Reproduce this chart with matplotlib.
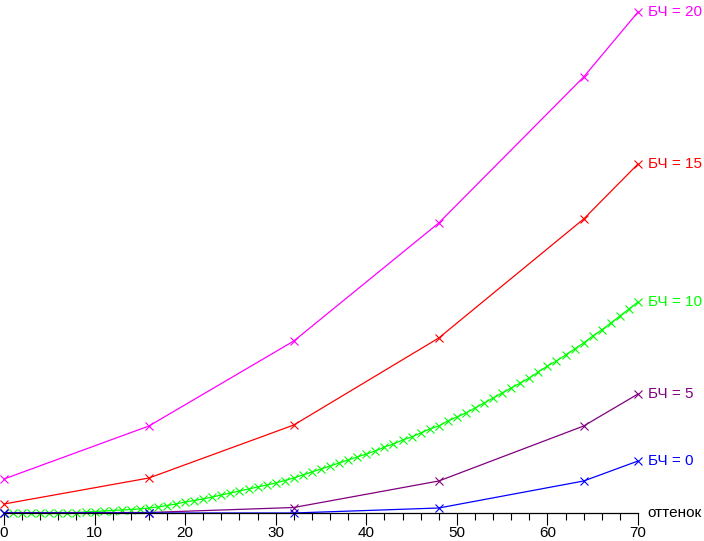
import matplotlib
matplotlib.use("Agg")
import matplotlib.pyplot as plt
from matplotlib.ticker import MultipleLocator

plt.rcParams['font.family'] = ['Liberation Sans', 'DejaVu Sans']

# оттенок (hue) values for the coarse series
hue = [0, 16, 32, 48, 64, 70]

bch20 = [3.4, 8.7, 17.2, 29.0, 43.6, 50.1]
bch15 = [0.9, 3.5, 8.8, 17.5, 29.4, 34.9]
bch5 = [0.03, 0.05, 0.55, 3.2, 8.7, 11.9]
bch0 = [0.0, 0.0, 0.0, 0.5, 3.2, 5.2]

# БЧ = 10 sampled at every hue step 0..70
hue_fine = list(range(71))
bch10 = [0.0, 0.0, 0.0, 0.0, 0.0, 0.0, 0.0, 0.0, 0.05, 0.1,
         0.15, 0.2, 0.25, 0.3, 0.35, 0.4, 0.5, 0.6, 0.75, 0.9,
         1.1, 1.25, 1.4, 1.6, 1.8, 2.0, 2.2, 2.4, 2.6, 2.8,
         3.0, 3.25, 3.5, 3.8, 4.1, 4.4, 4.7, 5.0, 5.3, 5.6,
         5.9, 6.2, 6.6, 6.9, 7.3, 7.6, 8.0, 8.4, 8.7, 9.2,
         9.6, 10.0, 10.5, 11.0, 11.5, 12.0, 12.5, 13.0, 13.5, 14.1,
         14.7, 15.2, 15.8, 16.4, 17.0, 17.7, 18.3, 19.0, 19.7, 20.4,
         21.1]

series = [
    (hue, bch20, "#ff00ff", "БЧ = 20"),
    (hue, bch15, "#ff0000", "БЧ = 15"),
    (hue_fine, bch10, "#00ff00", "БЧ = 10"),
    (hue, bch5, "#800080", "БЧ = 5"),
    (hue, bch0, "#0000ff", "БЧ = 0"),
]

fig = plt.figure(figsize=(7.04, 5.41), dpi=100)
ax = fig.add_axes([4 / 704, 28 / 541, 634 / 704, 513 / 541])

for xs, ys, col, lab in series:
    ax.plot(xs, ys, color=col, lw=0.9, marker='x', ms=6, mew=0.8,
            clip_on=False)
    ax.annotate(lab, (xs[-1], ys[-1]), xytext=(7, 0),
                textcoords='offset points', va='center', ha='left',
                color=col, fontsize=11, annotation_clip=False)

ax.set_xlim(0, 70)
ax.set_ylim(0, 51.3)
for s in ['top', 'right', 'left']:
    ax.spines[s].set_visible(False)
ax.spines['bottom'].set_linewidth(0.9)
ax.set_yticks([])
ax.xaxis.set_major_locator(MultipleLocator(10))
ax.xaxis.set_minor_locator(MultipleLocator(2))
ax.tick_params(axis='x', which='major', length=8.5, width=0.8,
               labelsize=11, pad=1)
ax.tick_params(axis='x', which='minor', length=5, width=0.8)

ax.annotate("оттенок", (70, 0), xytext=(7, 0), textcoords='offset points',
            va='center', ha='left', fontsize=11, annotation_clip=False)

fig.savefig("out.png", dpi=100)
